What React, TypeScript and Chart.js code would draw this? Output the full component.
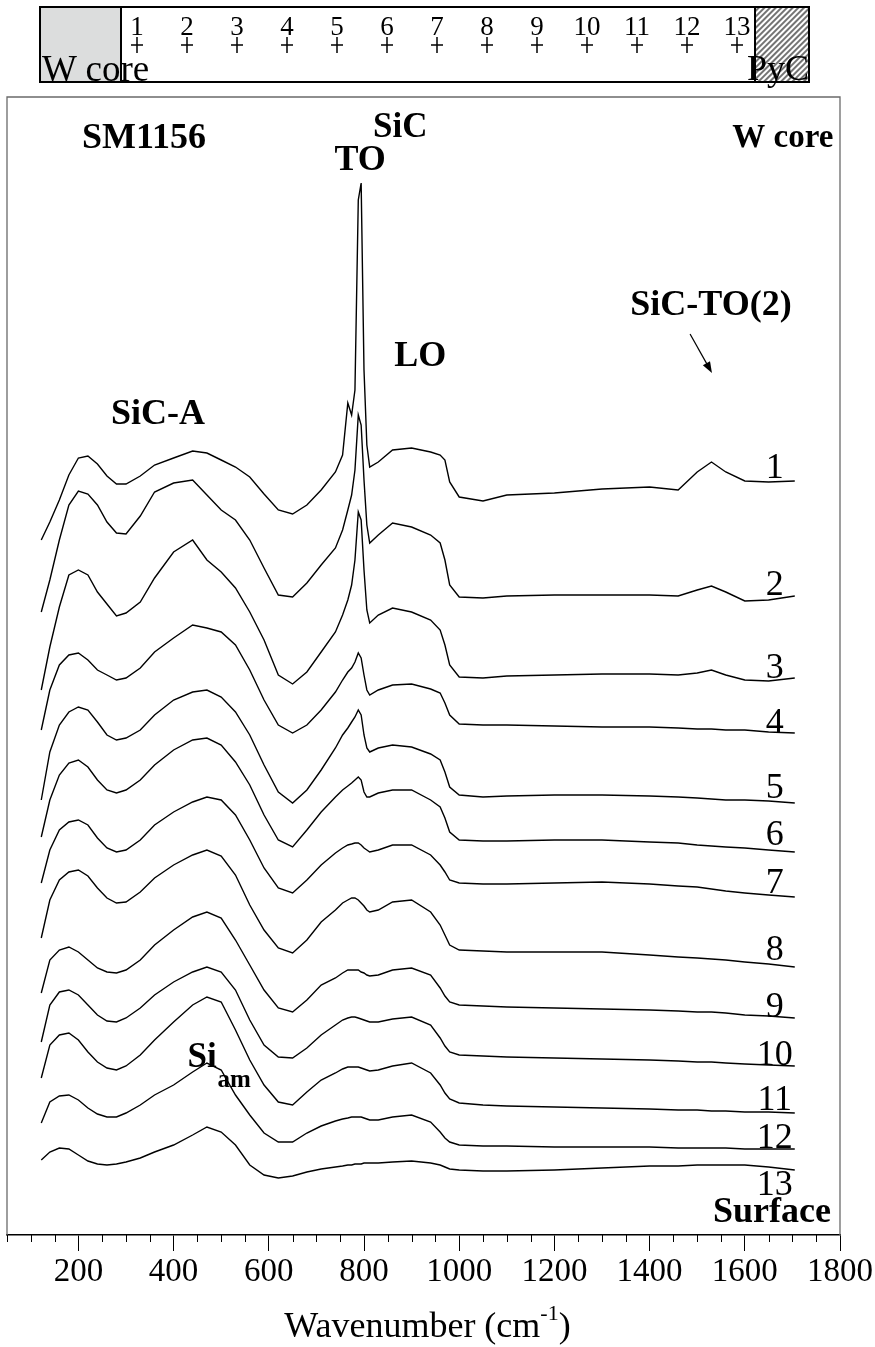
import React, { useEffect, useRef } from "react";
import { Chart, registerables } from "chart.js";

Chart.register(...registerables);

const SERIF = "'Liberation Serif', 'Times New Roman', Times, serif";

// Wavenumber grid (cm-1) shared by all spectra
const WAVENUMBERS = [122, 140, 160, 180, 200, 220, 240, 260, 280, 300, 330, 360, 400, 440, 470, 500, 530, 560, 590, 620, 650, 680, 710, 740, 755, 766, 774, 781, 788, 794, 800, 806, 812, 830, 860, 900, 940, 960, 970, 980, 1000, 1050, 1100, 1200, 1300, 1400, 1460, 1500, 1530, 1560, 1600, 1650, 1705];

// Stacked Raman intensities (a.u.), spectrum 1 (near W core) to 13 (surface)
const S1 = [695, 713, 735, 760, 777, 779, 771, 759, 751, 751, 759, 770, 777, 784, 782, 775, 768, 758, 741, 725, 721, 730, 745, 763, 780, 832, 820, 845, 1035, 1052, 865, 790, 768, 773, 785, 787, 783, 780, 775, 753, 738, 734, 740, 742, 746, 748, 745, 763, 773, 763, 754, 753, 754];
const S2 = [623, 655, 695, 730, 744, 741, 730, 713, 702, 701, 719, 743, 752, 755, 740, 725, 715, 695, 667, 640, 638, 652, 670, 687, 705, 725, 740, 765, 820, 810, 755, 710, 692, 700, 712, 708, 700, 692, 675, 650, 638, 637, 639, 640, 640, 640, 639, 645, 649, 643, 634, 635, 639];
const S3 = [545, 588, 628, 660, 665, 660, 643, 631, 619, 622, 633, 657, 683, 695, 675, 663, 647, 623, 595, 560, 551, 563, 583, 603, 620, 635, 650, 675, 723, 715, 665, 625, 612, 620, 627, 623, 615, 605, 590, 570, 558, 557, 559, 560, 561, 561, 560, 562, 565, 560, 555, 554, 557];
const S4 = [505, 545, 570, 580, 582, 575, 565, 560, 555, 557, 567, 583, 597, 610, 607, 603, 590, 565, 535, 510, 502, 510, 525, 543, 555, 563, 567, 573, 582, 577, 560, 545, 540, 545, 550, 551, 546, 542, 532, 520, 511, 510, 510, 509, 508, 508, 507, 506, 506, 505, 505, 503, 502];
const S5 = [435, 483, 510, 523, 528, 525, 513, 500, 495, 497, 505, 520, 535, 543, 545, 538, 523, 500, 470, 443, 432, 445, 465, 487, 500, 507, 513, 518, 525, 520, 500, 487, 483, 487, 490, 488, 481, 475, 463, 448, 440, 438, 439, 440, 440, 439, 438, 437, 436, 435, 435, 434, 432];
const S6 = [398, 435, 460, 472, 475, 468, 455, 445, 442, 445, 455, 470, 485, 495, 497, 490, 473, 450, 420, 395, 388, 405, 423, 438, 445, 449, 452, 455, 458, 455, 443, 438, 438, 442, 445, 445, 435, 428, 417, 403, 395, 394, 394, 395, 395, 393, 392, 390, 389, 388, 387, 385, 383];
const S7 = [352, 385, 405, 413, 415, 410, 397, 387, 383, 385, 395, 410, 423, 433, 438, 435, 420, 395, 367, 347, 342, 355, 370, 382, 387, 390, 391, 392, 392, 390, 387, 385, 383, 385, 390, 390, 380, 370, 363, 355, 352, 351, 351, 352, 353, 351, 349, 348, 346, 344, 342, 340, 338];
const S8 = [297, 335, 355, 363, 365, 359, 347, 337, 332, 333, 343, 357, 370, 380, 385, 379, 360, 330, 305, 287, 282, 295, 313, 325, 332, 335, 337, 337, 335, 332, 329, 325, 323, 325, 333, 335, 323, 310, 300, 290, 285, 284, 283, 283, 283, 280, 278, 277, 276, 275, 273, 271, 268];
const S9 = [242, 275, 285, 288, 283, 275, 267, 263, 262, 265, 275, 290, 305, 318, 323, 317, 295, 270, 245, 227, 223, 235, 250, 257, 262, 265, 265, 265, 265, 263, 262, 260, 259, 260, 265, 267, 260, 247, 239, 233, 230, 229, 228, 227, 226, 225, 224, 223, 223, 222, 220, 219, 217];
const S10 = [193, 230, 243, 245, 240, 230, 220, 214, 213, 217, 227, 240, 253, 263, 268, 263, 245, 215, 190, 178, 177, 187, 200, 210, 215, 217, 218, 218, 217, 216, 215, 214, 213, 213, 216, 218, 210, 197, 189, 183, 180, 179, 178, 177, 176, 175, 174, 173, 173, 172, 171, 170, 169];
const S11 = [157, 190, 200, 202, 195, 183, 173, 167, 165, 169, 180, 195, 213, 230, 238, 233, 205, 175, 150, 133, 130, 143, 155, 162, 166, 168, 168, 168, 168, 167, 166, 165, 164, 165, 169, 172, 162, 150, 142, 136, 132, 130, 129, 128, 127, 126, 125, 125, 124, 124, 123, 123, 122];
const S12 = [112, 133, 139, 140, 135, 127, 121, 118, 118, 122, 130, 140, 150, 163, 172, 165, 140, 120, 102, 93, 93, 102, 109, 114, 116, 117, 118, 118, 118, 118, 117, 116, 115, 115, 118, 120, 113, 103, 97, 93, 90, 89, 89, 88, 88, 88, 87, 87, 87, 87, 86, 86, 86];
const S13 = [75, 83, 87, 86, 80, 74, 71, 70, 71, 73, 77, 83, 90, 100, 108, 103, 90, 70, 60, 57, 59, 63, 66, 68, 69, 70, 70, 71, 71, 71, 72, 72, 72, 72, 73, 74, 72, 70, 68, 66, 65, 64, 64, 65, 67, 69, 69, 70, 70, 70, 70, 68, 65];

const SPECTRA = [S1, S2, S3, S4, S5, S6, S7, S8, S9, S10, S11, S12, S13];
const SPECTRUM_LABELS = ["1", "2", "3", "4", "5", "6", "7", "8", "9", "10", "11", "12", "13"];

const X_MIN = 50;
const X_MAX = 1800;
const Y_MIN = 0;
const Y_MAX = 1138;
const X_TICKS = [200, 400, 600, 800, 1000, 1200, 1400, 1600, 1800];
const MINOR_STEP = 50;

// top sampling-position bar
const POSITIONS = ["1", "2", "3", "4", "5", "6", "7", "8", "9", "10", "11", "12", "13"];

// ---- layout (text placement in data coordinates) ----
const LABEL_LEVELS = [757, 640, 557, 502, 437, 390, 342, 275, 218, 170, 125, 87, 40];
const LABEL_W = 1663;
const NOTES = [
  { text: "SM1156", w: 338, v: 1087, size: 36 },
  { text: "SiC", w: 876, v: 1098, size: 35 },
  { text: "TO", w: 792, v: 1065, size: 36 },
  { text: "W core", w: 1680, v: 1088, size: 33 },
  { text: "LO", w: 918, v: 869, size: 36 },
  { text: "SiC-A", w: 367, v: 811, size: 36 },
  { text: "SiC-TO(2)", w: 1529, v: 920, size: 36 },
  { text: "Si", w: 460, v: 168, size: 35 },
  { text: "am", w: 527, v: 148, size: 25 },
  { text: "Surface", w: 1657, v: 13, size: 36 },
];
const ARROW = { from: [1485, 901], to: [1531, 862] };

const decorPlugin = {
  id: "decor",
  beforeDatasetsDraw(chart: any) {
    const { ctx, chartArea: a, scales } = chart;
    const x = scales.x;
    ctx.save();
    ctx.strokeStyle = "#6a6a6a";
    ctx.lineWidth = 1.3;
    ctx.beginPath();
    ctx.moveTo(a.left, a.bottom);
    ctx.lineTo(a.left, a.top);
    ctx.lineTo(a.right, a.top);
    ctx.lineTo(a.right, a.bottom);
    ctx.stroke();
    ctx.strokeStyle = "#000";
    ctx.lineWidth = 1;
    ctx.beginPath();
    for (let v = X_MIN; v <= X_MAX; v += MINOR_STEP) {
      if (X_TICKS.includes(v)) continue;
      const px = Math.round(x.getPixelForValue(v)) + 0.5;
      ctx.moveTo(px, a.bottom);
      ctx.lineTo(px, a.bottom + 7);
    }
    ctx.stroke();
    ctx.restore();
  },
  afterDraw(chart: any) {
    const { ctx, chartArea: a, scales } = chart;
    const x = scales.x;
    const y = scales.y;
    ctx.save();
    ctx.fillStyle = "#000";
    ctx.textAlign = "center";
    ctx.textBaseline = "alphabetic";
    for (const n of NOTES) {
      ctx.font = `bold ${n.size}px ${SERIF}`;
      ctx.fillText(n.text, x.getPixelForValue(n.w), y.getPixelForValue(n.v));
    }
    ctx.font = `36px ${SERIF}`;
    SPECTRUM_LABELS.forEach((t, i) => {
      ctx.fillText(t, x.getPixelForValue(LABEL_W), y.getPixelForValue(LABEL_LEVELS[i]));
    });
    // arrow
    const x1 = x.getPixelForValue(ARROW.from[0]);
    const y1 = y.getPixelForValue(ARROW.from[1]);
    const x2 = x.getPixelForValue(ARROW.to[0]);
    const y2 = y.getPixelForValue(ARROW.to[1]);
    const ang = Math.atan2(y2 - y1, x2 - x1);
    const head = 12;
    ctx.strokeStyle = "#000";
    ctx.lineWidth = 1.2;
    ctx.beginPath();
    ctx.moveTo(x1, y1);
    ctx.lineTo(x2 - Math.cos(ang) * head * 0.8, y2 - Math.sin(ang) * head * 0.8);
    ctx.stroke();
    ctx.beginPath();
    ctx.moveTo(x2, y2);
    ctx.lineTo(x2 - head * Math.cos(ang - 0.35), y2 - head * Math.sin(ang - 0.35));
    ctx.lineTo(x2 - head * Math.cos(ang + 0.35), y2 - head * Math.sin(ang + 0.35));
    ctx.closePath();
    ctx.fill();
    // axis title with superscript
    const base = a.bottom + 102;
    const cx = (a.left + a.right) / 2 + 4;
    ctx.textAlign = "left";
    ctx.font = `36px ${SERIF}`;
    const main = "Wavenumber (cm";
    const wMain = ctx.measureText(main).width;
    const wClose = ctx.measureText(")").width;
    ctx.font = `22px ${SERIF}`;
    const sup = "-1";
    const wSup = ctx.measureText(sup).width;
    let sx = cx - (wMain + wSup + wClose) / 2;
    ctx.font = `36px ${SERIF}`;
    ctx.fillText(main, sx, base);
    sx += wMain;
    ctx.font = `22px ${SERIF}`;
    ctx.fillText(sup, sx, base - 17);
    sx += wSup;
    ctx.font = `36px ${SERIF}`;
    ctx.fillText(")", sx, base);
    ctx.restore();
  },
};

function TopBar() {
  return (
    <svg width={875} height={95} style={{ position: "absolute", left: 0, top: 0 }}>
      <defs>
        <pattern id="hatch" patternUnits="userSpaceOnUse" width="4" height="4" patternTransform="rotate(45)">
          <line x1="2" y1="0" x2="2" y2="4" stroke="#000" strokeWidth="1.1" />
        </pattern>
      </defs>
      <rect x={40} y={7} width={769} height={75} fill="#fff" stroke="#000" strokeWidth={2} />
      <rect x={40} y={7} width={81} height={75} fill="#dcdddd" stroke="#000" strokeWidth={2} />
      <rect x={755} y={7} width={54} height={75} fill="url(#hatch)" stroke="#000" strokeWidth={2} />
      {POSITIONS.map((p, i) => {
        const cx = 137 + 50 * i;
        return (
          <g key={p}>
            <text x={cx} y={35} fontSize={27} fontFamily={SERIF} textAnchor="middle" fill="#000">
              {p}
            </text>
            <line x1={cx - 6} y1={45} x2={cx + 6} y2={45} stroke="#000" strokeWidth={1.5} />
            <line x1={cx} y1={37} x2={cx} y2={53} stroke="#000" strokeWidth={1.5} />
          </g>
        );
      })}
      <text x={42} y={81} fontSize={37} fontFamily={SERIF} fill="#000">
        W core
      </text>
      <text x={747} y={80} fontSize={36} fontFamily={SERIF} fill="#000">
        PyC
      </text>
    </svg>
  );
}

export default function App() {
  const canvasRef = useRef<HTMLCanvasElement | null>(null);

  useEffect(() => {
    const canvas = canvasRef.current;
    if (!canvas) return;
    const datasets = SPECTRA.map((s, i) => ({
      label: SPECTRUM_LABELS[i],
      data: WAVENUMBERS.map((w, j) => ({ x: w, y: s[j] })),
      borderColor: "#000",
      borderWidth: 1.4,
      pointRadius: 0,
      tension: 0,
      fill: false,
    }));
    const chart = new Chart(canvas, {
      type: "line",
      data: { datasets },
      options: {
        animation: false,
        responsive: false,
        devicePixelRatio: 1,
        layout: { padding: { left: 7, right: 35, top: 97, bottom: 0 } },
        plugins: { legend: { display: false }, tooltip: { enabled: false } },
        scales: {
          x: {
            type: "linear",
            min: X_MIN,
            max: X_MAX,
            afterBuildTicks: (s: any) => {
              s.ticks = X_TICKS.map((v) => ({ value: v }));
            },
            afterFit: (s: any) => {
              s.height = 112;
            },
            grid: {
              display: true,
              drawOnChartArea: false,
              drawTicks: true,
              tickLength: 16,
              tickColor: "#000",
              tickWidth: 1,
            },
            border: { display: true, color: "#000", width: 1.5 },
            ticks: {
              color: "#000",
              font: { size: 33, family: SERIF },
              padding: 2,
              maxRotation: 0,
              autoSkip: false,
              callback: (v: any) => String(v),
            },
          },
          y: { display: false, min: Y_MIN, max: Y_MAX },
        },
      },
      plugins: [decorPlugin],
    } as any);
    return () => chart.destroy();
  }, []);

  return (
    <div style={{ position: "absolute", left: 0, top: 0, width: 875, height: 1347, background: "#fff" }}>
      <canvas
        ref={canvasRef}
        width={875}
        height={1347}
        style={{ position: "absolute", left: 0, top: 0, width: 875, height: 1347 }}
      />
      <TopBar />
    </div>
  );
}
